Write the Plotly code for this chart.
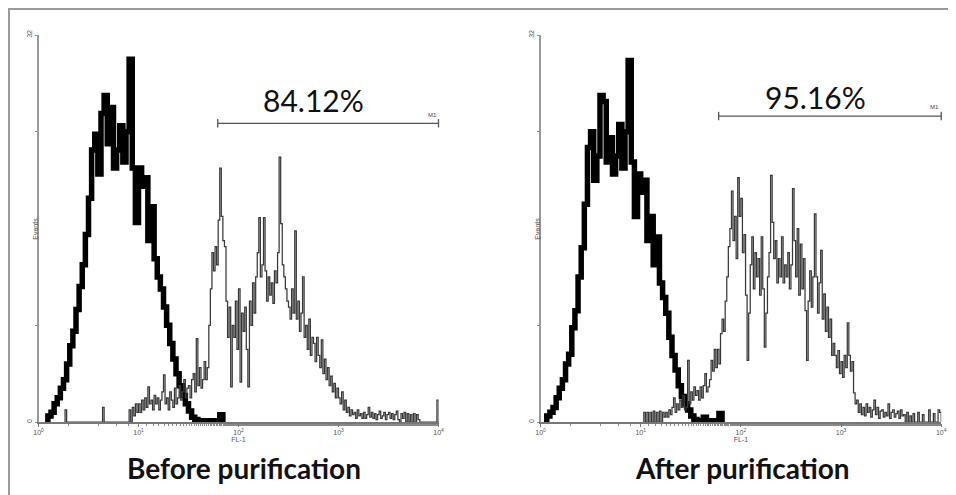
import math
import plotly.graph_objects as go

# ---------------- data ----------------
# FL-1 histograms; channels are log-spaced bins from 10^0 to 10^4
CTRL_PER_DECADE = 32      # control (thick black) histogram bins per decade
SAMPLE_PER_DECADE = 64    # stained sample (thin grey) histogram bins per decade

# Before purification -- control (isotype) histogram, events per bin
ctrl_before_start = 3
ctrl_before = [0.5, 0.8, 1.5, 2.0, 2.8, 3.5, 4.8, 6.3, 7.5, 9.3, 11.2, 13.0, 15.5, 18.5,
               22.5, 23.8, 20.5, 25.5, 27.0, 23.0, 26.0, 21.0, 22.5, 24.5, 21.5, 24.0,
               30.0, 21.0, 16.5, 21.0, 19.5, 20.2, 15.0, 17.8, 13.5, 12.0, 11.0, 9.5,
               8.0, 6.5, 5.2, 4.0, 3.0, 2.2, 1.5, 0.9, 0.4, 0.2, 0.1, 0.1, 0.1, 0.1,
               0.1, 0.1, 0.1, 0.6]

# Before purification -- stained sample histogram
sample_before_start = 17
sample_before = [1.0] + [0] * 23 + [1.2] + [0] * 16 + [
    1.0, 0, 1.2, 0.5, 1.5, 0.8,
    1.5, 0.8, 1.8, 1.0, 2.0, 1.2, 2.9, 1.5, 1.8, 1.0, 2.2, 1.5, 2.0, 1.0, 1.8, 2.5,
    3.9, 1.5, 2.0, 1.0, 2.5, 1.8, 1.2, 2.8, 1.5, 2.0, 3.0, 1.8, 2.5, 3.5, 2.0, 2.8,
    3.0, 2.0, 3.5, 4.0, 2.5, 6.9, 3.0, 4.5, 2.8, 3.5, 5.0, 3.5, 4.5, 8.0, 11.0, 14.0,
    12.5, 14.5, 13.0, 16.7, 21.0, 17.0, 15.0, 14.5, 10.0, 7.0, 9.5, 2.9, 8.0, 7.0, 10.0, 6.0,
    11.0, 3.3, 9.0, 7.5, 9.5, 6.0, 2.9, 10.0, 8.0, 11.5, 9.0, 12.0, 14.0, 16.9, 12.0, 13.0,
    16.9, 12.5, 10.0, 12.0, 10.5, 11.5, 9.8, 12.5, 11.5, 14.0, 21.9, 16.4, 13.0, 12.0, 11.0, 10.0,
    9.5, 8.5, 11.0, 9.0, 15.8, 8.5, 10.0, 7.5, 9.0, 12.0, 7.0, 8.0, 6.0, 8.5, 5.5, 7.0,
    6.5, 5.0, 7.0, 5.5, 4.5, 6.8, 4.0, 5.2, 3.5, 4.5, 3.0, 3.8, 2.5, 3.2, 2.0, 2.8,
    2.0, 1.5, 2.5, 1.0, 1.8, 0.8, 1.2, 0.5, 1.0, 0.6, 0.8, 0.3, 1.0, 0.5, 0.7, 0.3,
    0.8, 0.3, 0.6, 1.2, 0.4, 0.8, 0.3, 0.7, 0.2, 0.6, 0.9, 0.3, 0.5, 0.8, 0.2, 0.6,
    0.8, 0.3, 0.7, 0.2, 0.6, 0.9, 0.2, 0, 0.7, 0.3, 0.8, 0, 0.7, 0, 0.6, 0,
    0.7, 0, 0.6, 0.2, 0, 0, 0, 0, 0, 0, 0, 0, 0, 0, 0, 1.8]

# After purification -- control histogram
ctrl_after_start = 2
ctrl_after = [0.5, 0.8, 1.2, 2.0, 2.8, 3.5, 4.8, 5.6, 7.8, 9.2, 12.0, 14.4, 18.0, 22.7,
              24.0, 20.0, 22.0, 27.0, 26.5, 21.5, 23.5, 20.5, 22.0, 24.6, 21.0, 24.0,
              29.9, 21.5, 17.0, 20.5, 19.0, 20.0, 15.0, 17.0, 13.0, 15.3, 11.5, 10.3,
              9.0, 7.0, 5.5, 4.3, 3.0, 2.1, 1.5, 1.0, 0.5, 0.2, 0.1, 0.1, 0.4, 0.1,
              0.1, 0.1, 0.1, 0.7]

# After purification -- stained sample histogram
sample_after_start = 66
sample_after = [
    0.8, 0, 0.8, 0, 0.8, 0, 0.9, 0, 0.8, 0, 0.9, 0, 0.8, 0.4,
    0.8, 0.4, 1.0, 0.6, 1.2, 2.0, 0.8, 1.5, 1.0, 1.8, 1.2, 2.2, 1.0, 1.2, 5.1, 1.5,
    2.5, 1.8, 2.9, 2.2, 2.6, 1.8, 2.9, 2.0, 3.0, 4.0, 2.5, 2.9, 3.5, 5.1, 4.2, 6.0,
    4.5, 6.0, 4.8, 7.3, 8.5, 7.5, 10.0, 12.0, 14.5, 16.0, 19.1, 15.0, 17.0, 13.5, 20.2, 17.0,
    18.5, 14.0, 15.5, 10.5, 5.1, 9.0, 13.0, 15.3, 11.0, 14.0, 12.0, 13.5, 10.5, 15.3, 11.0, 6.2,
    9.0, 12.0, 14.0, 20.4, 16.5, 13.5, 15.0, 11.5, 13.5, 12.0, 15.3, 11.5, 13.0, 12.0, 14.0, 11.0,
    13.0, 19.3, 15.0, 12.0, 16.0, 10.5, 14.7, 11.0, 13.5, 9.2, 5.1, 10.0, 12.5, 9.5, 12.0, 17.2,
    12.0, 9.0, 11.5, 14.2, 8.5, 10.6, 7.5, 9.5, 7.0, 8.5, 5.5, 6.5, 5.5, 4.5, 5.9, 4.0,
    5.0, 3.7, 5.5, 4.5, 8.2, 5.5, 4.2, 5.0, 2.4, 1.5, 1.8, 0.8, 1.5, 0.6, 1.2, 0.5,
    1.5, 0.8, 1.2, 0.4, 1.0, 1.8, 0.6, 1.2, 0.3, 0.9, 1.0, 0.4, 0.8, 0.5, 1.5, 0.3,
    0.8, 1.0, 0.4, 0.7, 0.9, 0.3, 1.0, 0.5, 0.6, 0, 0.8, 0, 0.5, 0, 0.7, 0,
    0, 0.8, 0, 0, 0.6, 0, 0, 0, 1.0, 0, 0, 0.7, 0, 0, 1.0, 0.8]

# M1 gate (FL-1 start, FL-1 end, drawn height in events) and percentage label position
gate_before = [62, 10000]
gate_before_y = 24.7
pct_before = "84.12%"
pct_before_pos = [560, 26.6]
gate_after = [60, 10000]
gate_after_y = 25.3
pct_after = "95.16%"
pct_after_pos = [560, 26.9]

panel_titles = ["Before purification", "After purification"]
x_tickvals = [1, 10, 100, 1000, 10000]
x_ticktext = ["10<sup>0</sup>", "10<sup>1</sup>", "10<sup>2</sup>", "10<sup>3</sup>", "10<sup>4</sup>"]
y_tickvals = [0, 8, 16, 24, 32]
y_ticktext = ["0", "", "", "", "32"]


# ---------------- helpers ----------------
def step_xy(start, values, per_decade):
    xs = [10 ** (start / per_decade)]
    ys = [0]
    for i, v in enumerate(values):
        xs.append(10 ** ((start + i) / per_decade))
        ys.append(v)
    xs.append(10 ** ((start + len(values)) / per_decade))
    ys.append(0)
    return xs, ys


# page body has an 8 px margin; figure size chosen so it ends at the window edge
W, H, OFF = 948, 487, 8


def px(p):
    return (p - OFF) / W


def py(p):
    return 1 - (p - OFF) / H


fig = go.Figure()

panels = [
    ("x", "y", ctrl_before_start, ctrl_before, sample_before_start, sample_before,
     gate_before, gate_before_y, pct_before, pct_before_pos),
    ("x2", "y2", ctrl_after_start, ctrl_after, sample_after_start, sample_after,
     gate_after, gate_after_y, pct_after, pct_after_pos),
]

for xa, ya, cs, cv, ss, sv, gate, gy, pct, ppos in panels:
    x, y = step_xy(cs, cv, CTRL_PER_DECADE)
    fig.add_trace(go.Scatter(x=x, y=y, mode="lines", line=dict(color="#000000", width=5.5, shape="hv"),
                             xaxis=xa, yaxis=ya, showlegend=False, hoverinfo="skip"))
    x, y = step_xy(ss, sv, SAMPLE_PER_DECADE)
    fig.add_trace(go.Scatter(x=x, y=y, mode="lines", line=dict(color="#383838", width=1.25, shape="hv"),
                             xaxis=xa, yaxis=ya, showlegend=False, hoverinfo="skip"))
    fig.add_trace(go.Scatter(x=gate, y=[gy, gy], mode="lines+markers",
                             line=dict(color="#555555", width=1.3),
                             marker=dict(symbol="line-ns-open", size=6, line=dict(color="#555555", width=1.3)),
                             xaxis=xa, yaxis=ya, showlegend=False, hoverinfo="skip", cliponaxis=False))
    fig.add_annotation(x=math.log10(ppos[0]), y=ppos[1], xref=xa, yref=ya,
                       text=pct, showarrow=False, yanchor="middle",
                       font=dict(family="Lato", size=30, color="#111111"))
    fig.add_annotation(x=math.log10(gate[1]), y=gy + 0.3, xref=xa, yref=ya, text="M1",
                       showarrow=False, xanchor="right", yanchor="bottom",
                       font=dict(family="Liberation Sans", size=6, color="#444444"))

x_domains = [[px(38.5), px(438.5)], [px(540.5), px(941.2)]]
y_domain = [py(422), py(35)]

axis_common_x = dict(type="log", range=[0, 4], tickvals=x_tickvals, ticktext=x_ticktext,
                     tickfont=dict(family="Liberation Sans", size=7, color="#555555"),
                     ticks="outside", ticklen=3, tickcolor="#777777",
                     showline=True, linecolor="#777777", linewidth=1.5,
                     showgrid=False, zeroline=False, automargin=False,
                     minor=dict(ticks="outside", ticklen=2, tickcolor="#888888", showgrid=False),
                     title=dict(text="FL-1", font=dict(family="Liberation Sans", size=7, color="#555555"),
                                standoff=2))
axis_common_y = dict(range=[0, 32], tickvals=y_tickvals, ticktext=y_ticktext, tickangle=-90,
                     tickfont=dict(family="Liberation Sans", size=7, color="#555555"),
                     ticks="outside", ticklen=2, tickcolor="#888888",
                     showline=True, linecolor="#999999", linewidth=2, automargin=False,
                     showgrid=False, zeroline=False, domain=y_domain)

fig.update_layout(
    width=W, height=H,
    margin=dict(l=0, r=0, t=0, b=0, autoexpand=False),
    paper_bgcolor="white", plot_bgcolor="white",
    xaxis=dict(domain=x_domains[0], anchor="y", **axis_common_x),
    yaxis=dict(anchor="x", **axis_common_y),
    xaxis2=dict(domain=x_domains[1], anchor="y2", **axis_common_x),
    yaxis2=dict(anchor="x2", **axis_common_y),
)

for xa, ya, label, tx in [("x", "y", panel_titles[0], 0.515), ("x2", "y2", panel_titles[1], 0.505)]:
    fig.add_annotation(x=-0.022, y=0.5, xref=f"{xa} domain", yref=f"{ya} domain",
                       text="Events", textangle=-90, showarrow=False,
                       font=dict(family="Liberation Sans", size=7, color="#555555"))
    fig.add_annotation(x=tx, y=py(468), xref=f"{xa} domain", yref="paper",
                       text=f"<b>{label}</b>", showarrow=False, yanchor="middle",
                       font=dict(family="Lato", size=28, color="#111111"))

# outer frame of the figure (top and left edges)
fig.add_shape(type="line", xref="paper", yref="paper", x0=0, x1=1, y0=1 - 1 / H, y1=1 - 1 / H,
              line=dict(color="#9a9a9a", width=2))
fig.add_shape(type="line", xref="paper", yref="paper", x0=1 / W, x1=1 / W, y0=0, y1=1,
              line=dict(color="#9a9a9a", width=2))

fig.write_html("out.html")
